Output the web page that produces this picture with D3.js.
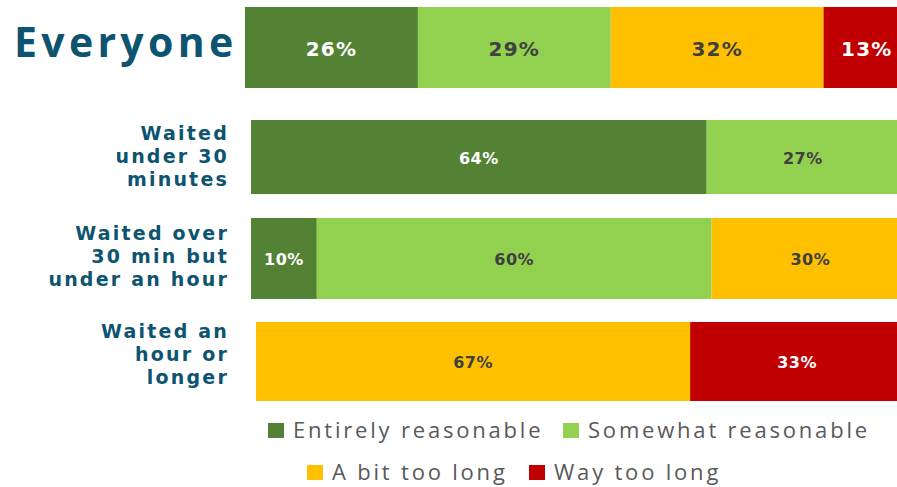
<!DOCTYPE html>
<html>
<head>
<meta charset="utf-8">
<script src="https://cdn.jsdelivr.net/npm/d3@7"></script>
<style>
  html, body { margin: 0; padding: 0; background: #fff; }
  svg { display: block; }
</style>
</head>
<body>
<div id="chart"></div>
<script>
// Wait time satisfaction - stacked bars
const categories = ['Everyone', 'Waited under 30 minutes', 'Waited over 30 min but under an hour', 'Waited an hour or longer'];
const seriesNames = ['Entirely reasonable', 'Somewhat reasonable', 'A bit too long', 'Way too long'];
const entirelyReasonable = [26, 64, 10, 0];
const somewhatReasonable = [29, 27, 60, 0];
const bitTooLong = [32, 0, 30, 67];
const wayTooLong = [13, 0, 0, 33];

// layout
const width = 897, height = 487;
const colors = ['#548235', '#92D050', '#FFC000', '#C00000'];
const labelColors = ['#ffffff', '#404040', '#404040', '#ffffff'];
const catLines = [['Everyone'], ['Waited', 'under 30', 'minutes'], ['Waited over', '30 min but', 'under an hour'], ['Waited an', 'hour or', 'longer']];
// each row was its own chart in the source, so each has its own span
const rows = [
    { x0: 245, x1: 910, y0: 7, y1: 88, font: 20, spacing: 1.2 },
    { x0: 251, x1: 963, y0: 120, y1: 194, font: 16, spacing: 0.5 },
    { x0: 251, x1: 909, y0: 218, y1: 299, font: 16, spacing: 0.5 },
    { x0: 256, x1: 904, y0: 322, y1: 401, font: 16, spacing: 0.5 }
];

const table = categories.map((c, i) => ({
    category: c,
    [seriesNames[0]]: entirelyReasonable[i],
    [seriesNames[1]]: somewhatReasonable[i],
    [seriesNames[2]]: bitTooLong[i],
    [seriesNames[3]]: wayTooLong[i]
}));

const stacked = d3.stack().keys(seriesNames)(table);
const color = d3.scaleOrdinal().domain(seriesNames).range(colors);
const textColor = d3.scaleOrdinal().domain(seriesNames).range(labelColors);

const svg = d3.select('#chart').append('svg')
    .attr('width', width)
    .attr('height', height)
    .attr('viewBox', `0 0 ${width} ${height}`);

const xScales = rows.map(r => d3.scaleLinear().domain([0, 100]).range([r.x0, r.x1]));

// bars
stacked.forEach(layer => {
    layer.forEach((d, i) => {
        const v = d[1] - d[0];
        if (v <= 0) return;
        const x = xScales[i];
        const r = rows[i];
        svg.append('rect')
            .attr('x', x(d[0]))
            .attr('y', r.y0)
            .attr('width', x(d[1]) - x(d[0]))
            .attr('height', r.y1 - r.y0)
            .attr('fill', color(layer.key));

        svg.append('text')
            .attr('x', (x(d[0]) + x(d[1])) / 2)
            .attr('y', (r.y0 + r.y1) / 2 + 1)
            .attr('text-anchor', 'middle')
            .attr('dominant-baseline', 'central')
            .attr('font-family', '"DejaVu Sans", sans-serif')
            .attr('font-weight', 700)
            .attr('font-size', r.font)
            .attr('letter-spacing', r.spacing)
            .attr('fill', textColor(layer.key))
            .text(v + '%');
    });
});

// category labels
svg.append('text')
    .attr('x', 14)
    .attr('y', 57)
    .attr('font-family', '"Open Sans", sans-serif')
    .attr('font-weight', 700)
    .attr('font-size', 41)
    .attr('letter-spacing', 4.3)
    .attr('fill', '#0D5470')
    .text(categories[0]);

const lineBase = [null, [140, 163, 186], [240, 263, 286], [338, 361, 384]];
catLines.forEach((lines, i) => {
    if (i === 0) return;
    lines.forEach((ln, j) => {
        svg.append('text')
            .attr('x', 229)
            .attr('y', lineBase[i][j])
            .attr('text-anchor', 'end')
            .attr('font-family', '"DejaVu Sans", sans-serif')
            .attr('font-weight', 700)
            .attr('font-size', 19)
            .attr('letter-spacing', 2.2)
            .attr('fill', '#0D5470')
            .text(ln);
    });
});

// legend
const legendPos = [
    { x: 268, y: 423 },
    { x: 563, y: 423 },
    { x: 307, y: 465 },
    { x: 529, y: 465 }
];
seriesNames.forEach((name, i) => {
    const p = legendPos[i];
    svg.append('rect')
        .attr('x', p.x)
        .attr('y', p.y)
        .attr('width', 16)
        .attr('height', 15)
        .attr('fill', colors[i]);
    svg.append('text')
        .attr('x', p.x + 25)
        .attr('y', p.y + 15)
        .attr('font-family', '"Open Sans", sans-serif')
        .attr('font-size', 22)
        .attr('letter-spacing', 2.8)
        .attr('fill', '#595959')
        .text(name);
});
</script>
</body>
</html>
